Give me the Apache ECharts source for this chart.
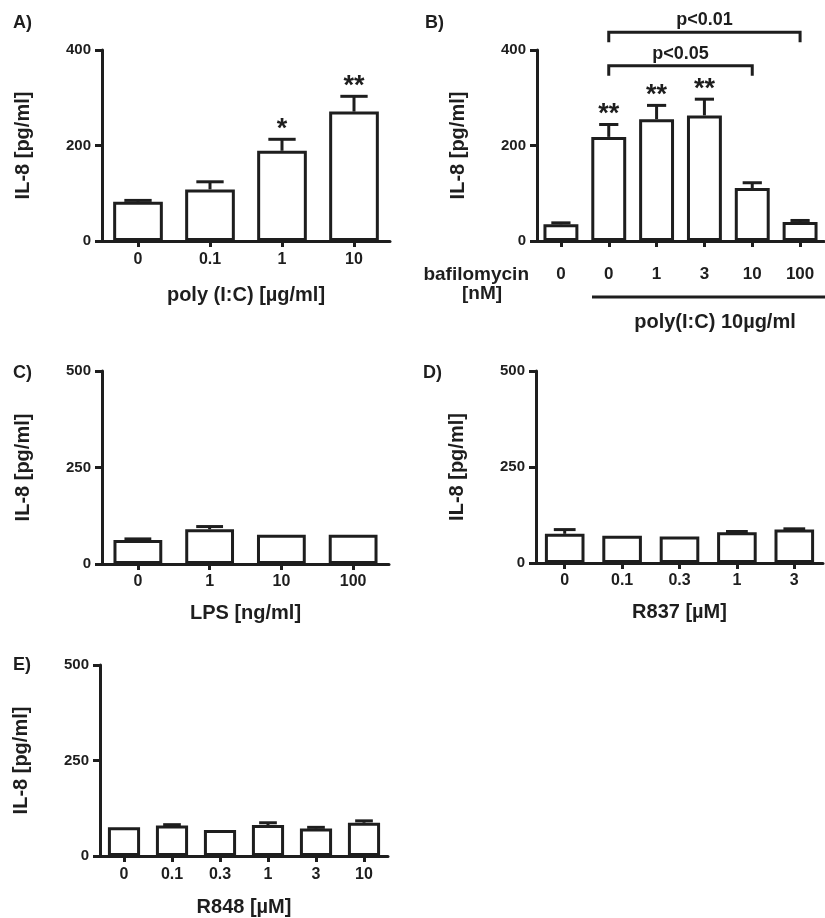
<!DOCTYPE html>
<html><head><meta charset="utf-8">
<script src="https://cdn.jsdelivr.net/npm/echarts@6/dist/echarts.min.js"></script>
<style>html,body{margin:0;padding:0;background:#fff}#c{width:825px;height:918px}</style>
</head><body><div id="c"></div>
<script>
// ---- data ----
const catsA = ['0', '0.1', '1', '10'];
const valsA = [82, 108, 189, 271];
const errA  = [85, 124, 213, 303];
const starsA = ['', '', '*', '**'];

const catsB = ['0', '0', '1', '3', '10', '100'];
const valsB = [35, 218, 255, 263, 111, 40];
const errB  = [38, 244, 284, 297, 122, 43];
const starsB = ['', '**', '**', '**', '', ''];
const bracketPairsB = [[1, 4], [1, 5]];
const bracketLevelsB = [367, 437];
const bracketLabelsB = ['p<0.05', 'p<0.01'];

const catsC = ['0', '1', '10', '100'];
const valsC = [62, 90, 76, 76];
const errC  = [65, 97, 77, 77];

const catsD = ['0', '0.1', '0.3', '1', '3'];
const valsD = [76, 71, 69, 80, 87];
const errD  = [87, 72, 70, 82, 89];

const catsE = ['0', '0.1', '0.3', '1', '3', '10'];
const valsE = [75, 80, 68, 81, 72, 87];
const errE  = [76, 82, 69, 87, 75, 92];

const yTicksAB = [0, 200, 400];
const yTicksCDE = [0, 250, 500];

// ---- styling ----
const INK = '#1e1e1e';
const FF = 'Liberation Sans, Arial, Helvetica, sans-serif';
const LW = 3;

const panels = [
  {cats: catsA, vals: valsA, err: errA, stars: starsA, ticks: yTicksAB,
   grid: {left: 102, top: 50, width: 288, height: 191}, xname: 'poly (I:C) [\u00b5g/ml]', nameGap: 44, labMargin: 11, bw: 0.69, lab: 16},
  {cats: catsB, vals: valsB, err: errB, stars: starsB, ticks: yTicksAB,
   grid: {left: 537, top: 50, width: 287, height: 191}, xname: '', nameGap: 0, labMargin: 25, bw: 0.73, lab: 17},
  {cats: catsC, vals: valsC, err: errC, stars: null, ticks: yTicksCDE,
   grid: {left: 102, top: 371, width: 287, height: 193}, xname: 'LPS [ng/ml]', nameGap: 39, labMargin: 10, bw: 0.68, lab: 16},
  {cats: catsD, vals: valsD, err: errD, stars: null, ticks: yTicksCDE,
   grid: {left: 536, top: 371, width: 287, height: 192}, xname: 'R837 [\u00b5M]', nameGap: 39, labMargin: 10, bw: 0.69, lab: 16},
  {cats: catsE, vals: valsE, err: errE, stars: null, ticks: yTicksCDE,
   grid: {left: 100, top: 665, width: 288, height: 191}, xname: 'R848 [\u00b5M]', nameGap: 41, labMargin: 11, bw: 0.67, lab: 16}
];

const grids = [], xAxes = [], yAxes = [], series = [];
panels.forEach((p, k) => {
  grids.push(p.grid);
  xAxes.push({
    type: 'category', gridIndex: k, data: p.cats,
    name: p.xname, nameLocation: 'middle', nameGap: p.nameGap,
    nameTextStyle: {color: INK, fontFamily: FF, fontWeight: 'bold', fontSize: 20},
    axisLine: {show: true, lineStyle: {color: INK, width: LW}},
    axisTick: {show: true, alignWithLabel: true, interval: 0, length: 6, lineStyle: {color: INK, width: LW}},
    axisLabel: {interval: 0, margin: p.labMargin, color: INK, fontFamily: FF, fontWeight: 'bold', fontSize: p.lab},
    splitLine: {show: false}
  });
  const mx = p.ticks[p.ticks.length - 1];
  yAxes.push({
    type: 'value', gridIndex: k, min: 0, max: mx, interval: p.ticks[1] - p.ticks[0],
    name: 'IL-8 [pg/ml]', nameLocation: 'middle', nameGap: 69, nameRotate: 90,
    nameTextStyle: {color: INK, fontFamily: FF, fontWeight: 'bold', fontSize: 20},
    axisLine: {show: true, lineStyle: {color: INK, width: LW}},
    axisTick: {show: true, length: 7, lineStyle: {color: INK, width: LW}},
    axisLabel: {margin: 11, color: INK, fontFamily: FF, fontWeight: 'bold', fontSize: 15},
    splitLine: {show: false}
  });
  series.push({
    type: 'bar', xAxisIndex: k, yAxisIndex: k, data: p.vals,
    barWidth: (p.bw * 100) + '%',
    itemStyle: {color: '#fff', borderColor: INK, borderWidth: LW},
    silent: true, animation: false
  });
  const stars = p.stars;
  const bw = p.bw;
  series.push({
    type: 'custom', xAxisIndex: k, yAxisIndex: k, z: 5, clip: false, animation: false, silent: true,
    data: p.vals.map((v, i) => [i, v, p.err[i]]),
    renderItem: function (params, api) {
      const i = api.value(0);
      const a = api.coord([i, api.value(1)]);
      const b = api.coord([i, api.value(2)]);
      const band = api.size([1, 0])[0];
      const cap = band * bw * 0.55 / 2;
      const ch = [];
      if (b[1] < a[1] - 0.5) {
        ch.push({type: 'line', shape: {x1: a[0], y1: a[1], x2: b[0], y2: b[1]}, style: {stroke: INK, lineWidth: LW}});
        ch.push({type: 'line', shape: {x1: b[0] - cap, y1: b[1], x2: b[0] + cap, y2: b[1]}, style: {stroke: INK, lineWidth: LW}});
      }
      const s = stars ? stars[params.dataIndex] : '';
      if (s) {
        ch.push({type: 'text', style: {x: b[0], y: b[1] - 10, text: s, align: 'center', verticalAlign: 'middle',
          fill: INK, fontFamily: FF, fontWeight: 'bold', fontSize: 27}});
      }
      return {type: 'group', children: ch};
    }
  });
});

// significance brackets on panel B
series.push({
  type: 'custom', xAxisIndex: 1, yAxisIndex: 1, z: 5, clip: false, animation: false, silent: true,
  data: bracketPairsB.map((pr, i) => [pr[0], pr[1], bracketLevelsB[i]]),
  renderItem: function (params, api) {
    const a = api.coord([api.value(0), api.value(2)]);
    const b = api.coord([api.value(1), api.value(2)]);
    return {type: 'group', children: [
      {type: 'polyline', shape: {points: [[a[0], a[1] + 10], [a[0], a[1]], [b[0], b[1]], [b[0], b[1] + 10]]},
       style: {stroke: INK, lineWidth: LW, fill: null}},
      {type: 'text', style: {x: (a[0] + b[0]) / 2, y: a[1] - 12, text: bracketLabelsB[params.dataIndex],
       align: 'center', verticalAlign: 'middle', fill: INK, fontFamily: FF, fontWeight: 'bold', fontSize: 18}}
    ]};
  }
});

const txt = (x, y, t, align, size) => ({type: 'text', x: x, y: y, silent: true,
  style: {text: t, align: align || 'left', verticalAlign: 'middle', fill: INK, fontFamily: FF, fontWeight: 'bold', fontSize: size || 18}});

const chart = echarts.init(document.getElementById('c'), null, {renderer: 'canvas'});
chart.setOption({
  backgroundColor: '#fff',
  animation: false,
  grid: grids, xAxis: xAxes, yAxis: yAxes, series: series,
  graphic: [
    txt(13, 23, 'A)'), txt(425, 23, 'B)'), txt(13, 373, 'C)'), txt(423, 373, 'D)'), txt(13, 665, 'E)'),
    txt(529, 275, 'bafilomycin', 'right', 19),
    txt(482, 294, '[nM]', 'center', 19),
    {type: 'line', silent: true, shape: {x1: 592, y1: 297, x2: 825, y2: 297}, style: {stroke: INK, lineWidth: LW}},
    txt(715, 322, 'poly(I:C) 10\u00b5g/ml', 'center', 20)
  ]
});
</script></body></html>
